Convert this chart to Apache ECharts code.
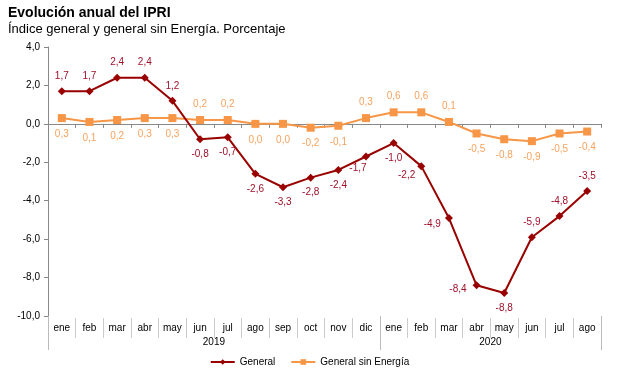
<!DOCTYPE html>
<html><head><meta charset="utf-8">
<script src="https://cdn.jsdelivr.net/npm/echarts@6/dist/echarts.min.js"></script>
<style>html,body{margin:0;padding:0;background:#fff}#c{width:619px;height:374px}</style>
</head><body><div id="c"></div>
<script>
var months = ['ene','feb','mar','abr','may','jun','jul','ago','sep','oct','nov','dic','ene','feb','mar','abr','may','jun','jul','ago'];
var years = ['2019','2020'];
var yearSpans = [12, 8];
var general = [1.7,1.7,2.4,2.4,1.2,-0.8,-0.7,-2.6,-3.3,-2.8,-2.4,-1.7,-1.0,-2.2,-4.9,-8.4,-8.8,-5.9,-4.8,-3.5];
var sinEnergia = [0.3,0.1,0.2,0.3,0.3,0.2,0.2,0.0,0.0,-0.2,-0.1,0.3,0.6,0.6,0.1,-0.5,-0.8,-0.9,-0.5,-0.4];
var generalLabelPos = ['top','top','top','top','top','bottom','bottom','bottom','bottom','bottom','bottom','bottom','bottom','left','left','left','bottom','top','top','top'];
var generalLabelOff = {11: [-8, -3], 13: [4, 9], 14: [2, 6], 15: [0, 4]};
var sinLabelPos = ['bottom','bottom','bottom','bottom','bottom','top','top','bottom','bottom','bottom','bottom','top','top','top','top','bottom','bottom','bottom','bottom','bottom'];

function fmt(v){ return v.toFixed(1).replace('.', ','); }

var yearBounds = [0], yearCenters = [], acc = 0;
yearSpans.forEach(function(s){ yearCenters.push(acc + s/2); acc += s; yearBounds.push(acc); });

var chart = echarts.init(document.getElementById('c'));
var font = 'Arial, "Liberation Sans", sans-serif';
chart.setOption({
  animation: false,
  title: [
    {text: 'Evolución anual del IPRI', left: 3, top: 1, textStyle: {fontFamily: font, fontSize: 14, fontWeight: 'bold', color: '#000'}},
    {text: 'Índice general y general sin Energía. Porcentaje', left: 3, top: 18, textStyle: {fontFamily: font, fontSize: 13, fontWeight: 'normal', color: '#000'}}
  ],
  grid: {left: 48, right: 18, top: 47, bottom: 58, containLabel: false},
  legend: {
    bottom: 2, left: 'center', itemWidth: 24, itemHeight: 7, itemGap: 15,
    textStyle: {fontFamily: font, fontSize: 10, color: '#000'},
    data: ['General', 'General sin Energía']
  },
  xAxis: [
    {type: 'category', data: months, position: 'bottom', boundaryGap: true,
     axisLine: {onZero: true, lineStyle: {color: '#888', width: 1}},
     axisTick: {show: true, length: 4, interval: 0, lineStyle: {color: '#888'}},
     axisLabel: {show: false}},
    {type: 'category', data: months, position: 'bottom', boundaryGap: true, offset: 2,
     axisLine: {show: false, onZero: false},
     axisTick: {show: true, length: 20, interval: 0, lineStyle: {color: '#ccc'}},
     axisLabel: {show: true, interval: 0, margin: 5, fontFamily: font, fontSize: 10, color: '#000'}},
    {type: 'value', min: 0, max: months.length, position: 'bottom', offset: 0,
     axisLine: {show: false, onZero: false},
     splitLine: {show: false},
     axisTick: {show: true, length: 34, customValues: yearBounds, lineStyle: {color: '#bbb'}},
     axisLabel: {show: true, customValues: yearCenters, margin: 21, fontFamily: font, fontSize: 10, color: '#000',
       formatter: function(v){ var i = yearCenters.indexOf(v); return i >= 0 ? years[i] : ''; }}}
  ],
  yAxis: {
    type: 'value', min: -10, max: 4, interval: 2,
    axisLine: {show: true, lineStyle: {color: '#888'}},
    axisTick: {show: true, length: 4, lineStyle: {color: '#888'}},
    splitLine: {show: false},
    axisLabel: {fontFamily: font, fontSize: 10, color: '#000', margin: 8, formatter: function(v){ return fmt(v); }}
  },
  series: [
    {name: 'General', type: 'line', xAxisIndex: 0,
     data: general.map(function(v, i){ return {value: v, label: {position: generalLabelPos[i], offset: generalLabelOff[i] || [0, 0]}}; }),
     symbol: 'diamond', symbolSize: 8,
     lineStyle: {color: '#990000', width: 2}, itemStyle: {color: '#990000'},
     label: {show: true, distance: 6, fontFamily: font, fontSize: 10, color: '#A0102A', formatter: function(p){ return fmt(p.value); }},
     z: 3},
    {name: 'General sin Energía', type: 'line', xAxisIndex: 0,
     data: sinEnergia.map(function(v, i){ return {value: v, label: {position: sinLabelPos[i]}}; }),
     symbol: 'rect', symbolSize: 8,
     lineStyle: {color: '#F79646', width: 2}, itemStyle: {color: '#F79646'},
     label: {show: true, distance: 7, fontFamily: font, fontSize: 10, color: '#F9A25E', formatter: function(p){ return fmt(p.value); }},
     z: 2}
  ]
});
</script></body></html>
